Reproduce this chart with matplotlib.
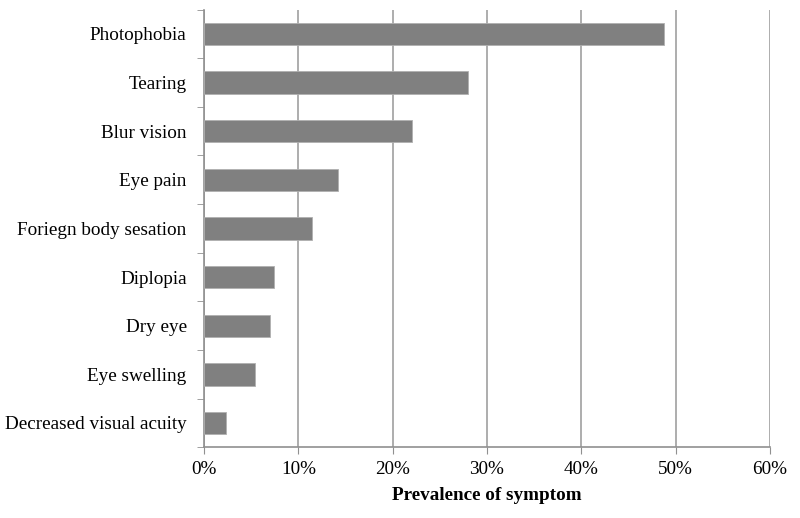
import matplotlib.pyplot as plt
import numpy as np

plt.rcParams['font.family'] = ['Liberation Serif', 'DejaVu Serif']

symptoms = ["Photophobia", "Tearing", "Blur vision", "Eye pain", "Foriegn body sesation",
            "Diplopia", "Dry eye", "Eye swelling", "Decreased visual acuity"]
prevalence = [48.8, 28.0, 22.0, 14.2, 11.4, 7.4, 7.0, 5.4, 2.3]
xticks = [0, 10, 20, 30, 40, 50, 60]

fig = plt.figure(figsize=(8, 5.18), dpi=100)
ax = fig.add_axes([0.255, 0.1365, 0.7075, 0.845])

y = np.arange(len(symptoms))[::-1]
ax.barh(y, prevalence, height=0.46, color='#808080', edgecolor='#b0b0b0', linewidth=0.6, zorder=3)

ax.set_xlim(0, 60)
ax.set_ylim(-0.5, len(symptoms) - 0.5)
ax.set_xticks(xticks)
ax.set_xticklabels([f"{v}%" for v in xticks], fontsize=13.8)
ax.set_yticks(y)
ax.set_yticklabels(symptoms, fontsize=13.8)
ax.set_yticks(np.arange(-0.5, len(symptoms)), minor=True)
ax.tick_params(axis='y', which='major', length=0, pad=12.5)
ax.tick_params(axis='y', which='minor', length=5, color='#909090', direction='out')
ax.tick_params(axis='x', length=5, color='#909090', direction='out', pad=5)

ax.grid(axis='x', color='#a0a0a0', linewidth=1.2, zorder=0)
for s in ['top', 'right']:
    ax.spines[s].set_visible(False)
for s in ['left', 'bottom']:
    ax.spines[s].set_color('#909090')
    ax.spines[s].set_linewidth(1.2)

ax.set_xlabel("Prevalence of symptom", fontsize=13.8, fontweight='bold', labelpad=6)

fig.savefig("out.png", dpi=100)
